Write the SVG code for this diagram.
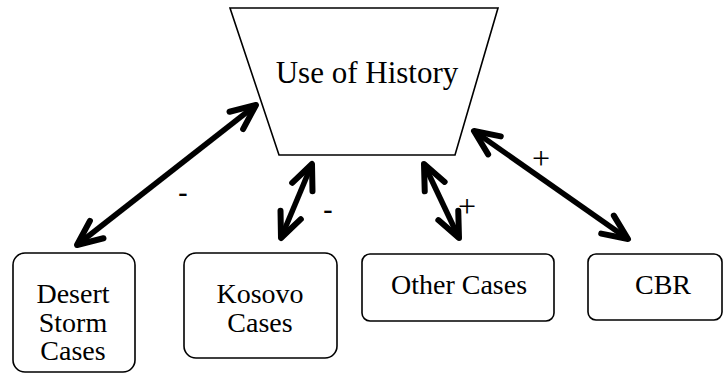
<svg xmlns="http://www.w3.org/2000/svg" width="728" height="375" viewBox="0 0 728 375">
  <style>
    .box { fill: #fff; stroke: #000; stroke-width: 1.6; }
    .lbl { font-family: "Liberation Serif", "Times New Roman", serif; font-size: 28px; fill: #000; text-anchor: middle; }
    .title { font-size: 31px; }
    .sign { font-family: "Liberation Serif", "Times New Roman", serif; font-size: 32px; fill: #000; text-anchor: middle; }
    .minus { font-weight: bold; font-size: 28px; }
    .link { stroke: #000; stroke-width: 5.5; fill: none; marker-start: url(#head); marker-end: url(#head); }
  </style>
  <defs>
    <marker id="head" markerUnits="userSpaceOnUse" viewBox="-32 -16 36 32" markerWidth="36" markerHeight="32" refX="0" refY="0" orient="auto-start-reverse">
      <path d="M -25 -11 L 0 0 L -25 11" fill="none" stroke="#000" stroke-width="6" stroke-linecap="round" stroke-linejoin="round"/>
    </marker>
  </defs>
  <rect width="728" height="375" fill="#fff"/>

  <g id="use-of-history">
    <polygon class="box" points="230,8 498,8 455,155 279,155"/>
    <text class="lbl title" x="367" y="83">Use of History</text>
  </g>

  <g id="desert-storm">
    <rect class="box" x="13" y="253" width="122" height="119" rx="12"/>
    <text class="lbl" x="73" y="303">Desert</text>
    <text class="lbl" x="73" y="332">Storm</text>
    <text class="lbl" x="73" y="360">Cases</text>
  </g>

  <g id="kosovo">
    <rect class="box" x="184" y="253" width="153" height="105" rx="12"/>
    <text class="lbl" x="260" y="303">Kosovo</text>
    <text class="lbl" x="260" y="332">Cases</text>
  </g>

  <g id="other-cases">
    <rect class="box" x="362" y="254" width="192" height="67" rx="8"/>
    <text class="lbl" x="459" y="294">Other Cases</text>
  </g>

  <g id="cbr">
    <rect class="box" x="588" y="254" width="134" height="66" rx="8"/>
    <text class="lbl" x="663" y="294">CBR</text>
  </g>

  <g id="connectors">
    <line class="link" x1="77" y1="245" x2="256" y2="105"/>
    <text class="sign minus" x="183" y="201">-</text>
    <line class="link" x1="281" y1="238" x2="312" y2="164"/>
    <text class="sign minus" x="328" y="218">-</text>
    <line class="link" x1="459" y1="238" x2="424" y2="164"/>
    <text class="sign" x="467" y="217">+</text>
    <line class="link" x1="628" y1="239" x2="474" y2="131"/>
    <text class="sign" x="541" y="169">+</text>
  </g>
</svg>
